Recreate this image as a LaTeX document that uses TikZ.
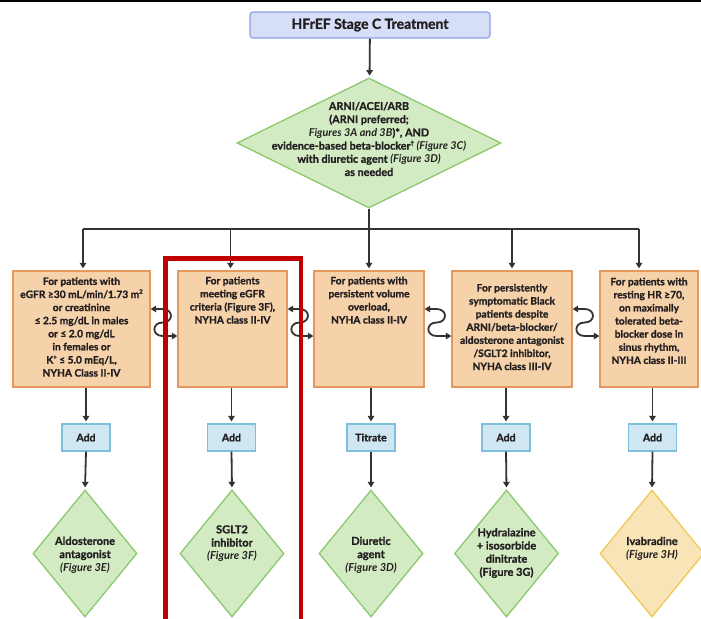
\documentclass[tikz,border=0pt]{standalone}
\usepackage{fontspec}
\setmainfont{Lato}[BoldFeatures={FakeBold=1.2}]
\usetikzlibrary{shapes.geometric,arrows.meta,calc}
\definecolor{txtc}{HTML}{231F20}
\definecolor{conn}{HTML}{333333}
\definecolor{ofill}{HTML}{F6D2AA}
\definecolor{obord}{HTML}{E6985C}
\definecolor{gfill}{HTML}{D2EBC3}
\definecolor{gbord}{HTML}{8CC86E}
\definecolor{yfill}{HTML}{F8E4B6}
\definecolor{ybord}{HTML}{F0C85A}
\definecolor{bfill}{HTML}{CFE7F3}
\definecolor{bbord}{HTML}{7CC0DC}
\definecolor{tfill}{HTML}{D6DEF8}
\definecolor{tbord}{HTML}{8CA0E6}
\definecolor{redline}{HTML}{C00000}
\newcommand\fig[1]{{\itshape #1}}
\newcommand\tsup[1]{\raisebox{0.42em}{\fontsize{6bp}{6bp}\selectfont #1}}
\begin{document}
\begin{tikzpicture}[x=1bp,y=-1bp,
  tx/.style={font=\fontsize{10.2bp}{13.1bp}\selectfont\bfseries, text=txtc, align=center, inner sep=0},
  dtx/.style={tx, font=\fontsize{11bp}{13.2bp}\selectfont\bfseries},
  obox/.style={draw=obord, fill=ofill, line width=1.3bp, inner sep=0, minimum height=116bp},
  gdia/.style={diamond, draw=gbord, fill=gfill, line width=1.3bp, inner sep=0, minimum width=104bp, minimum height=127bp},
  ydia/.style={gdia, draw=ybord, fill=yfill},
  addbox/.style={draw=bbord, fill=bfill, line width=1.2bp, inner sep=0, minimum width=48bp, minimum height=27bp,
    font=\fontsize{10.5bp}{12bp}\selectfont\bfseries, text=txtc},
  line/.style={draw=conn, line width=1.8bp},
  arr/.style={line, -{Triangle[length=5.5bp,width=6.5bp]}, shorten >=2bp},
  swirl/.style={line, {Triangle[length=5.5bp,width=6.5bp]}-{Triangle[length=5.5bp,width=6.5bp]}},
]
\useasboundingbox (0,0) rectangle (701,619);
\fill[black] (0,0) rectangle (701,2.2);

% top
\node[draw=tbord, fill=tfill, line width=1.2bp, rounded corners=3bp, minimum width=240bp, minimum height=26bp,
  inner sep=0, font=\fontsize{14bp}{16bp}\selectfont\bfseries, text=txtc] (top) at (370,25) {HFrEF Stage C Treatment};

% main diamond
\node[diamond, draw=gbord, fill=gfill, line width=1.3bp, inner sep=0, minimum width=264bp, minimum height=130bp] (d0) at (369,143) {};
\node[dtx, font=\fontsize{10.8bp}{13.2bp}\selectfont\bfseries] (d0t) at (369,139) {ARNI/ACEI/ARB\\(ARNI preferred;\\\fig{Figures 3A and 3B})*, AND\\
  evidence-based beta-blocker\tsup{\textdagger} \fig{(Figure 3C)}\\with diuretic agent \fig{(Figure 3D)}\\as needed};

% boxes
\node[obox, minimum width=137bp] (b1) at (81.5,329) {};
\node[obox, minimum width=109bp] (b2) at (232.5,329) {};
\node[obox, minimum width=110bp] (b3) at (369,329) {};
\node[obox, minimum width=120bp] (b4) at (512,329) {};
\node[obox, minimum width=98bp] (b5) at (649,329) {};
\node[tx] (b1t) at (81.5,327) {For patients with\\eGFR ≥30 mL/min/1.73 m\tsup{2}\\or creatinine\\≤ 2.5 mg/dL in males\\or ≤ 2.0 mg/dL\\in females or\\K\tsup{+} ≤ 5.0 mEq/L,\\NYHA Class II-IV};
\node[tx, anchor=north] (b2t) at (232.5,276.5) {For patients\\meeting eGFR\\criteria (Figure 3F),\\NYHA class II-IV};
\node[tx, anchor=north] (b3t) at (369,276.5) {For patients with\\persistent volume\\overload,\\NYHA class II-IV};
\node[tx] (b4t) at (512,327) {For persistently\\symptomatic Black\\patients despite\\ARNI/beta-blocker/\\aldosterone antagonist\\/SGLT2 inhibitor,\\NYHA class III-IV};
\node[tx, anchor=north] (b5t) at (649,277.5) {For patients with\\resting HR ≥70,\\on maximally\\tolerated beta-\\blocker dose in\\sinus rhythm,\\NYHA class II-III};

% add boxes
\node[addbox] (a1) at (86,437.5) {Add};
\node[addbox] (a2) at (231.5,437.5) {Add};
\node[addbox] (a3) at (371,437.5) {Titrate};
\node[addbox] (a4) at (506,437.5) {Add};
\node[addbox] (a5) at (652.5,437.5) {Add};

% bottom diamonds
\node[gdia] (d1) at (85,553.5) {};
\node[gdia] (d2) at (232,553.5) {};
\node[gdia] (d3) at (371,553.5) {};
\node[gdia] (d4) at (506.5,553.5) {};
\node[ydia] (d5) at (652,553.5) {};
\node[dtx] (d1t) at (85,555) {Aldosterone\\antagonist\\\fig{(Figure 3E)}};
\node[dtx] (d2t) at (232,543.5) {SGLT2\\inhibitor\\\fig{(Figure 3F)}};
\node[dtx] (d3t) at (371,555) {Diuretic\\agent\\\fig{(Figure 3D)}};
\node[dtx] (d4t) at (506.5,553) {Hydralazine\\+ isosorbide\\dinitrate\\(Figure 3G)};
\node[dtx] (d5t) at (652,548.5) {Ivabradine\\\fig{(Figure 3H)}};

% connectors
\coordinate (bus) at (369,229);
\draw[arr] (top) -- (d0);
\draw[line] (d0.south) -- (bus);
\draw[line] ([xshift=1.5bp]b1.north |- bus) -- ([xshift=-10bp]b5.north |- bus);
\draw[arr] ([xshift=1.5bp]b1.north |- bus) -- ([xshift=1.5bp]b1.north);
\draw[arr] ([xshift=-2bp]b2.north |- bus) -- ([xshift=-2bp]b2.north);
\draw[arr] (bus) -- (b3.north);
\draw[arr] (b4.north |- bus) -- (b4.north);
\draw[arr] ([xshift=-10bp]b5.north |- bus) -- ([xshift=-10bp]b5.north);
\foreach \i in {1,...,5}{
  \draw[arr] (a\i.north |- b\i.south) -- (a\i.north);
  \draw[arr] (a\i.south) -- (d\i.north);
}
% swirls
\foreach \l/\r in {b1/b2, b2/b3, b3/b4, b4/b5}{
  \draw[swirl] ([yshift=20bp]\l.east) -- ++(12,0) to[out=0,in=0,looseness=2.1] ++(0,13.5)
     to[out=180,in=180,looseness=2.1] ++(0,13.5) -- ([yshift=-7bp]\r.west);
}
% red highlight
\draw[redline, line width=4.5bp] (165.5,619) -- (165.5,258.5) -- (301,258.5) -- (301,619);
\end{tikzpicture}
\end{document}
